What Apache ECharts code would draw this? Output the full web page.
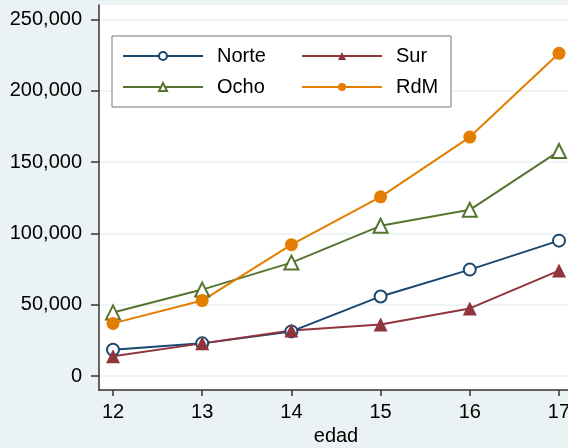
<!DOCTYPE html>
<html>
<head>
<meta charset="utf-8">
<script src="https://cdn.jsdelivr.net/npm/echarts@6/dist/echarts.min.js"></script>
<style>
  html, body { margin: 0; padding: 0; background: #eaf2f3; }
  #chart { width: 568px; height: 448px; }
</style>
</head>
<body>
<div id="chart"></div>
<script>
const edad = [12, 13, 14, 15, 16, 17];
const norte = [18500, 23000, 31400, 55900, 74700, 95000];
const sur = [14000, 23000, 32000, 36300, 47500, 74000];
const ocho = [44700, 60700, 79600, 105400, 116600, 157800];
const rdm = [37000, 53000, 92200, 125700, 167600, 226300];
const yTicks = [0, 50000, 100000, 150000, 200000, 250000];

const font = 'Liberation Sans, Arial, sans-serif';
const pts = vals => edad.map((x, i) => [x, vals[i]]);

function line(name, vals, color, symbol, size) {
  return {
    name,
    type: 'line',
    data: pts(vals),
    symbol,
    symbolSize: size,
    showSymbol: true,
    lineStyle: { color, width: 2 },
    itemStyle: { color, borderWidth: 2 },
    emphasis: { disabled: true },
    z: 3
  };
}

const chart = echarts.init(document.getElementById('chart'));
chart.setOption({
  backgroundColor: '#eaf2f3',
  animation: false,
  textStyle: { fontFamily: font },
  grid: {
    left: 99, right: -5, top: 5, bottom: 58,
    outerBoundsMode: 'none', containLabel: false,
    show: true, backgroundColor: '#fff', borderWidth: 0
  },
  legend: {
    left: 112, top: 36,
    width: 340,
    padding: [10, 10, 10, 10],
    itemWidth: 80, itemHeight: 10, itemGap: 11,
    backgroundColor: '#fff',
    borderColor: '#777', borderWidth: 1,
    formatter: n => (n === 'Norte' || n === 'Ocho') ? '{a|' + n + '}' : '{b|' + n + '}',
    textStyle: {
      fontSize: 20, color: '#000', padding: [0, 0, 0, 9],
      rich: {
        a: { fontSize: 20, width: 73, lineHeight: 20, fontFamily: font },
        b: { fontSize: 20, width: 45, lineHeight: 20, fontFamily: font }
      }
    },
    data: ['Norte', 'Sur', 'Ocho', 'RdM']
  },
  xAxis: {
    type: 'value',
    min: 11.843, max: 17.157,
    name: 'edad', nameLocation: 'middle', nameGap: 36,
    nameTextStyle: { fontSize: 20, color: '#000' },
    axisLine: { show: true, onZero: false, lineStyle: { color: '#333', width: 1.5 } },
    axisTick: { show: true, length: 6, lineStyle: { color: '#333', width: 1.5 }, customValues: edad },
    axisLabel: { fontSize: 20, color: '#000', margin: 12, customValues: edad },
    splitLine: { show: false }
  },
  yAxis: {
    type: 'value',
    min: -9686, max: 260177,
    axisLine: { show: true, onZero: false, lineStyle: { color: '#333', width: 1.5 } },
    axisTick: { show: true, length: 8, lineStyle: { color: '#333', width: 1.5 }, customValues: yTicks },
    axisLabel: {
      fontSize: 20, color: '#000', margin: 17, customValues: yTicks,
      formatter: v => v.toLocaleString('en-US')
    },
    splitLine: { show: true, lineStyle: { color: '#eaf2f3', width: 1.5 } }
  },
  series: [
    line('Norte', norte, '#1a476f', 'emptyCircle', 12),
    line('Sur', sur, '#90353b', 'triangle', 14),
    line('Ocho', ocho, '#55752f', 'emptyTriangle', 14),
    line('RdM', rdm, '#e37e00', 'circle', 13)
  ]
});
</script>
</body>
</html>
